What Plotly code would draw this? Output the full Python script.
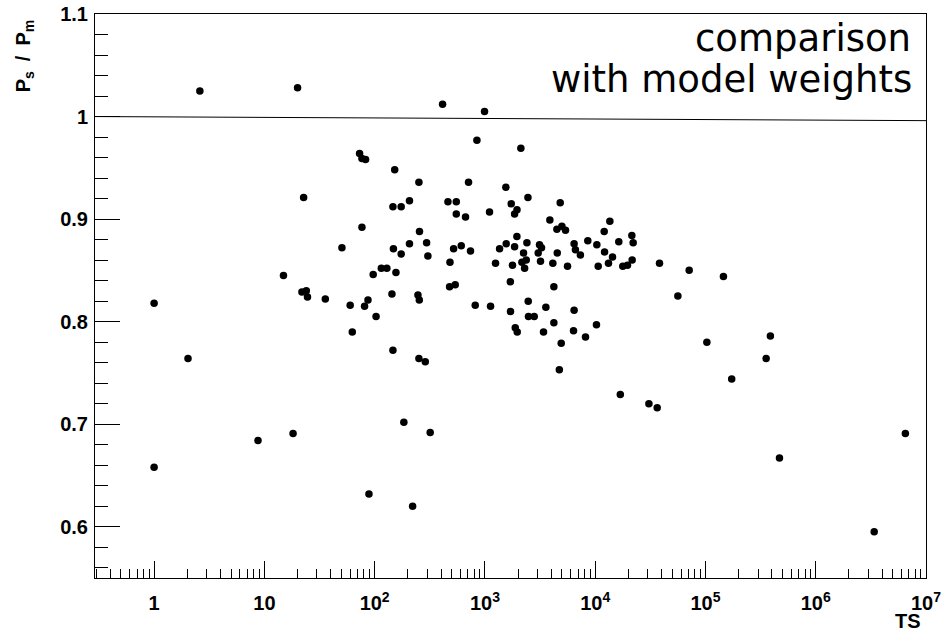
import plotly.graph_objects as go

# ---- data ----
ts = [1.0, 1.0, 2.03, 2.6, 8.75, 14.9, 18.2, 20.0, 22.7, 21.9, 24.0, 24.6, 35.7, 50.5,
      60.0, 62.7, 73, 76.7, 82.7, 76.7, 81, 87, 88.8, 97, 103, 115, 129, 143.5, 146.5,
      146.5, 148, 152, 156, 174, 174, 184, 207, 207, 221, 247, 252, 254, 252, 255, 288,
      296, 304, 319, 413, 462, 478, 482, 520, 538, 550, 550, 610, 667, 710, 740, 817,
      846, 992, 1101, 1125, 1248, 1358, 1549, 1561, 1700, 1706, 1733, 1778, 1858, 1858,
      1884, 1950, 1954, 1963, 2118, 2165, 2240, 2290, 2370, 2404, 2455, 2470, 2483, 2800,
      3042, 3126, 3192, 3260, 3400, 3570, 3880, 4130, 4220, 4220, 4495, 4530, 4730, 4817,
      4920, 4990, 5380, 5610, 6360, 6440, 6440, 6620, 7340, 8170, 8570, 10270, 10350,
      10650, 12070, 12160, 13200, 13580, 14360, 16370, 16900, 17800, 19630, 21500, 21640,
      22100, 30700, 36500, 38300, 56200, 71200, 103000, 145600, 173000, 355000, 388000,
      469000, 3.39e6, 6.5e6]
ratio = [0.818, 0.658, 0.764, 1.025, 0.684, 0.845, 0.691, 1.028, 0.921, 0.829, 0.830, 0.824,
         0.822, 0.872, 0.816, 0.790, 0.964, 0.959, 0.958, 0.892, 0.815, 0.821, 0.632, 0.846,
         0.805, 0.852, 0.852, 0.827, 0.912, 0.772, 0.871, 0.948, 0.848, 0.912, 0.866, 0.702,
         0.918, 0.876, 0.620, 0.826, 0.936, 0.821, 0.764, 0.888, 0.761, 0.877, 0.864, 0.692,
         1.012, 0.917, 0.834, 0.858, 0.871, 0.836, 0.917, 0.905, 0.874, 0.902, 0.936, 0.869,
         0.816, 0.977, 1.005, 0.907, 0.815, 0.857, 0.871, 0.931, 0.876, 0.839, 0.810, 0.915,
         0.855, 0.905, 0.873, 0.794, 0.883, 0.909, 0.790, 0.969, 0.858, 0.867, 0.852, 0.860,
         0.877, 0.921, 0.820, 0.805, 0.805, 0.867, 0.875, 0.859, 0.872, 0.790, 0.814, 0.899,
         0.857, 0.834, 0.799, 0.890, 0.867, 0.753, 0.916, 0.779, 0.893, 0.889, 0.854, 0.791,
         0.876, 0.811, 0.870, 0.865, 0.785, 0.879, 0.797, 0.875, 0.854, 0.888, 0.868, 0.857,
         0.898, 0.863, 0.878, 0.729, 0.854, 0.855, 0.884, 0.860, 0.877, 0.720, 0.716, 0.857,
         0.825, 0.850, 0.780, 0.844, 0.744, 0.764, 0.786, 0.667, 0.595, 0.691]

ref_line_x = [10 ** -0.536, 1e7]
ref_line_y = [1.0, 0.996]

x_tick_vals = [1, 10, 100, 1e3, 1e4, 1e5, 1e6, 1e7]
x_tick_text = ["<b>1</b>", "<b>10</b>", "<b>10<sup>2</sup></b>", "<b>10<sup>3</sup></b>",
               "<b>10<sup>4</sup></b>", "<b>10<sup>5</sup></b>", "<b>10<sup>6</sup></b>",
               "<b>10<sup>7</sup></b>"]
y_tick_vals = [0.6, 0.7, 0.8, 0.9, 1.0, 1.1]
y_tick_text = ["<b>0.6</b>", "<b>0.7</b>", "<b>0.8</b>", "<b>0.9</b>", "<b>1</b>", "<b>1.1</b>"]

x_minor = [m * 10 ** k for k in range(-1, 7) for m in range(2, 10)]

fig = go.Figure()
fig.add_trace(go.Scatter(x=ref_line_x, y=ref_line_y, mode="lines",
                         line=dict(color="black", width=1), showlegend=False,
                         hoverinfo="skip"))
fig.add_trace(go.Scatter(x=ts, y=ratio, mode="markers",
                         marker=dict(color="black", size=7.5, line=dict(width=0)),
                         showlegend=False))

tickfont = dict(family="Liberation Sans, Arial, sans-serif", size=20, color="black")

fig.update_layout(
    width=946, height=636,
    margin=dict(l=95, r=20, t=14, b=58, autoexpand=False),
    paper_bgcolor="white", plot_bgcolor="white",
    xaxis=dict(type="log", range=[-0.536, 7], tickmode="array",
               tickvals=x_tick_vals, ticktext=x_tick_text, automargin=False,
               ticks="inside", ticklen=17, tickwidth=1, tickcolor="black",
               showline=True, mirror=True, linecolor="black", linewidth=1,
               showgrid=False, zeroline=False, tickfont=tickfont,
               ticklabelstandoff=7,
               minor=dict(tickmode="array", tickvals=x_minor, ticks="inside",
                          ticklen=9, tickwidth=1, tickcolor="black", showgrid=False)),
    yaxis=dict(range=[0.55, 1.1], tickmode="array", automargin=False,
               tickvals=y_tick_vals, ticktext=y_tick_text,
               ticks="inside", ticklen=25, tickwidth=1, tickcolor="black",
               showline=True, mirror=True, linecolor="black", linewidth=1,
               showgrid=False, zeroline=False, tickfont=tickfont,
               ticklabelstandoff=2,
               minor=dict(dtick=0.02, tick0=0.0, ticks="inside", ticklen=13,
                          tickwidth=1, tickcolor="black", showgrid=False)),
    annotations=[
        dict(text="comparison", xref="paper", yref="paper", x=0.984, y=0.956,
             xanchor="right", yanchor="middle", showarrow=False,
             font=dict(family="DejaVu Sans", size=37, color="black")),
        dict(text="with model weights", xref="paper", yref="paper", x=0.986, y=0.883,
             xanchor="right", yanchor="middle", showarrow=False,
             font=dict(family="DejaVu Sans", size=37, color="black")),
        dict(text="<b>TS</b>", xref="paper", yref="paper", x=0.9964, y=-0.076,
             xanchor="right", yanchor="middle", showarrow=False,
             font=dict(family="Liberation Sans, Arial, sans-serif", size=20,
                       color="black")),
        dict(text="<b>P<sub>s</sub>\u2002/\u2002P<sub>m</sub></b>", xref="paper",
             yref="paper", x=-0.0855, y=0.995, xanchor="center", yanchor="top",
             textangle=-90, showarrow=False,
             font=dict(family="Liberation Sans, Arial, sans-serif", size=20,
                       color="black")),
    ],
)

fig.write_html("out.html")
